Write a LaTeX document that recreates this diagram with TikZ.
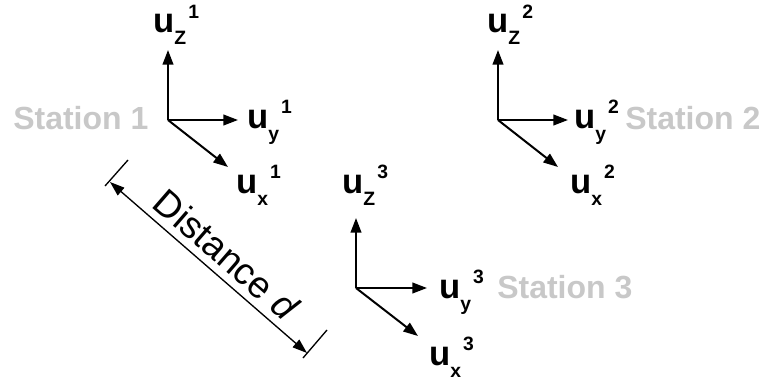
\documentclass[tikz,border=0pt]{standalone}
\usepackage{fontspec}
\setmainfont{Liberation Sans}
\usetikzlibrary{arrows.meta}
\definecolor{stgray}{RGB}{200,200,200}
\newcommand{\ulab}[2]{\fontsize{26}{26}\selectfont\bfseries u\raisebox{-9pt}{\fontsize{14.5}{14.5}\selectfont\bfseries #1}\hspace{1.5pt}\raisebox{11pt}{\fontsize{14.5}{14.5}\selectfont\bfseries #2}}
\tikzset{
  axis/.style={line width=1.5pt, -{Triangle[length=11pt,width=8pt]}},
  lab/.style={anchor=base west, inner sep=0pt},
  station/.style={anchor=base west, inner sep=0pt, text=stgray, font=\fontsize{24}{24}\selectfont\bfseries},
  dim/.style={line width=1pt, {Triangle[length=11pt,width=7.5pt]}-{Triangle[length=11pt,width=7.5pt]}},
  tick/.style={line width=1pt}
}
\begin{document}
\begin{tikzpicture}[x=0.75pt,y=-0.75pt]
\useasboundingbox (0,0) rectangle (767,385);
% frame 1
\coordinate (O1) at (168,120);
\coordinate (Z1) at (168,50);
\coordinate (Y1) at (238,120);
\coordinate (X1) at (228,167);
\draw[axis] (O1) -- (Z1);
\draw[axis] (O1) -- (Y1);
\draw[axis] (O1) -- (X1);
\node[lab] (lz1) at (153,33) {\ulab{Z}{1}};
\node[lab] (ly1) at (247,128) {\ulab{y}{1}};
\node[lab] (lx1) at (236,193) {\ulab{x}{1}};
\node[station] (s1) at (13,129) {Station 1};
% frame 2
\coordinate (O2) at (498,120);
\coordinate (Z2) at (498,50);
\coordinate (Y2) at (568,120);
\coordinate (X2) at (558,167);
\draw[axis] (O2) -- (Z2);
\draw[axis] (O2) -- (Y2);
\draw[axis] (O2) -- (X2);
\node[lab] (lz2) at (487,33) {\ulab{Z}{2}};
\node[lab] (ly2) at (574,128) {\ulab{y}{2}};
\node[lab] (lx2) at (570,193) {\ulab{x}{2}};
\node[station] (s2) at (625,129) {Station 2};
% frame 3
\coordinate (O3) at (356,288);
\coordinate (Z3) at (356,218);
\coordinate (Y3) at (427,288);
\coordinate (X3) at (418,336);
\draw[axis] (O3) -- (Z3);
\draw[axis] (O3) -- (Y3);
\draw[axis] (O3) -- (X3);
\node[lab] (lz3) at (342,193) {\ulab{Z}{3}};
\node[lab] (ly3) at (439,298) {\ulab{y}{3}};
\node[lab] (lx3) at (429,365) {\ulab{x}{3}};
\node[station] (s3) at (497,298) {Station 3};
% distance
\coordinate (A) at (110,182);
\coordinate (B) at (307,353);
\coordinate (T1a) at (105,186);
\coordinate (T1b) at (128,160);
\coordinate (T2a) at (303,358);
\coordinate (T2b) at (327,330);
\draw[tick] (T1a) -- (T1b);
\draw[tick] (T2a) -- (T2b);
\draw[dim] (A) -- node[pos=0.52, sloped, above=2pt, font=\fontsize{28}{28}\selectfont] (dl) {Distance \textit{d}} (B);
\end{tikzpicture}
\end{document}
